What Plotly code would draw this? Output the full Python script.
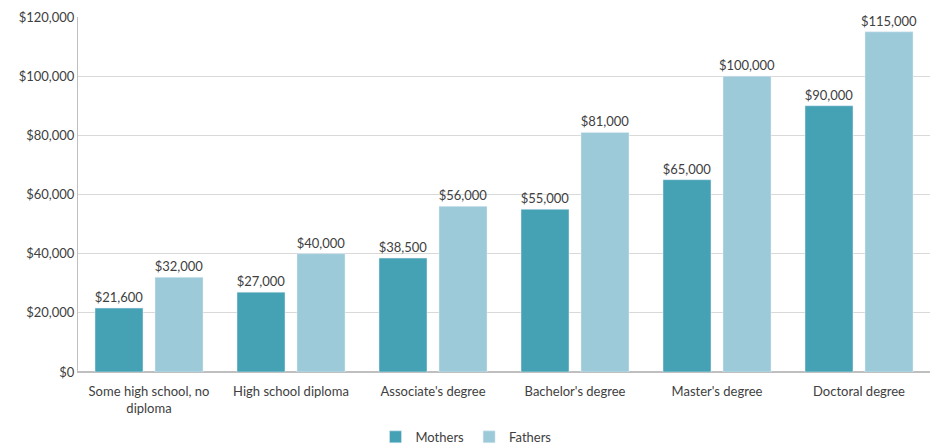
import plotly.graph_objects as go

categories = ["Some high school, no<br>diploma", "High school diploma", "Associate's degree",
              "Bachelor's degree", "Master's degree", "Doctoral degree"]
mothers = [21600, 27000, 38500, 55000, 65000, 90000]
fathers = [32000, 40000, 56000, 81000, 100000, 115000]

def fmt(v):
    return "${:,}".format(v)

fig = go.Figure()
fig.add_trace(go.Bar(name="Mothers", x=categories, y=mothers, marker_color="#45A1B4",
                     text=[fmt(v) for v in mothers], textposition="outside", constraintext="none",
                     textfont=dict(size=13, color="#404040"), cliponaxis=False))
fig.add_trace(go.Bar(name="Fathers", x=categories, y=fathers, marker_color="#9CCAD9",
                     text=[fmt(v) for v in fathers], textposition="outside", constraintext="none",
                     textfont=dict(size=13, color="#404040"), cliponaxis=False))

fig.update_layout(
    width=932, height=444,
    margin=dict(l=78, r=2, t=17, b=72, autoexpand=False),
    paper_bgcolor="white", plot_bgcolor="white",
    font=dict(family="Lato, Open Sans, sans-serif", size=13, color="#404040"),
    barmode="group", bargap=0.155, bargroupgap=0.2,
    legend=dict(orientation="h", x=0.5, xanchor="center", xref="container",
                y=0.016, yanchor="middle", yref="container",
                font=dict(size=13), itemwidth=30, traceorder="normal"),
    yaxis=dict(range=[0, 120000], dtick=20000, tickprefix="$", tickformat=",",
               gridcolor="#D9D9D9", gridwidth=1, showline=True, linecolor="#BFBFBF",
               zeroline=True, zerolinecolor="#BFBFBF", ticks="", ticklen=0, tickfont=dict(size=13)),
    xaxis=dict(showline=True, linecolor="#BFBFBF", tickfont=dict(size=13), ticklabelstandoff=7),
)

fig.write_html("out.html")
